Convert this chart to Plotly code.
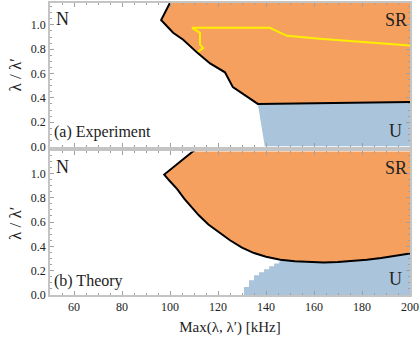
import plotly.graph_objects as go
from plotly.subplots import make_subplots

# (a) experiment: SR boundary (black line)
exp_bound_x = [101.0, 96.3, 101.3, 105.5, 111.3, 116.7, 122.9, 126.2, 136.6, 200.0]
exp_bound_y = [1.22, 1.04, 0.935, 0.878, 0.772, 0.683, 0.61, 0.488, 0.35, 0.366]
# (a) experiment: U region corners
exp_u_x = [136.6, 139.5, 200.0, 200.0]
exp_u_y = [0.35, 0.0, 0.0, 0.366]
# (a) experiment: yellow contour
exp_yel_x = [111.7, 113.8, 112.5, 112.5, 109.2, 141.6, 148.7, 162.4, 200.0]
exp_yel_y = [0.78, 0.81, 0.837, 0.935, 0.976, 0.976, 0.91, 0.886, 0.83]

# (b) theory: SR boundary
th_upper_x = [112.0]
th_upper_y = [1.22]
th_curve_x = [97.6, 100, 103, 106, 109, 112, 116, 120, 125, 130, 135, 140, 146,
              152, 158, 164, 170, 176, 182, 188, 194, 200]
th_curve_y = [0.99, 0.935, 0.87, 0.79, 0.72, 0.655, 0.58, 0.52, 0.45, 0.39, 0.345,
              0.315, 0.29, 0.277, 0.27, 0.268, 0.272, 0.28, 0.29, 0.305, 0.322, 0.341]
# (b) theory: U staircase
th_stair_x = [130.8, 132.9, 135.0, 137.1, 139.2, 141.3, 143.4, 145.5]
th_stair_y = [0.065, 0.122, 0.163, 0.187, 0.211, 0.236, 0.26, 0.276]

ORANGE = '#F6A05F'
BLUE = '#A9C4DB'
FONT = 'Liberation Serif'
TOP = 1.22

fig = make_subplots(rows=2, cols=1, shared_xaxes=True, vertical_spacing=0.017)

# ---- top panel
fig.add_trace(go.Scatter(x=exp_u_x, y=exp_u_y, fill='toself', fillcolor=BLUE,
                         mode='lines', line=dict(width=0)), row=1, col=1)
fig.add_trace(go.Scatter(x=exp_bound_x + [200.0], y=exp_bound_y + [TOP], fill='toself',
                         fillcolor=ORANGE, mode='lines', line=dict(width=0)), row=1, col=1)
fig.add_trace(go.Scatter(x=exp_bound_x, y=exp_bound_y, mode='lines',
                         line=dict(color='black', width=2)), row=1, col=1)
fig.add_trace(go.Scatter(x=exp_yel_x, y=exp_yel_y, mode='lines',
                         line=dict(color='#FFEE00', width=2)), row=1, col=1)

# ---- bottom panel: U region = staircase + area under the curve, one polygon
ux, uy = [th_stair_x[0]], [0.0]
edges = th_stair_x[1:] + [146]
for x0, x1, h in zip(th_stair_x, edges, th_stair_y):
    ux += [x0, x1]
    uy += [h, h]
for x, y in zip(th_curve_x, th_curve_y):
    if x >= 146:
        ux.append(x)
        uy.append(y)
ux.append(200.0)
uy.append(0.0)
fig.add_trace(go.Scatter(x=ux, y=uy, fill='toself', fillcolor=BLUE,
                         mode='lines', line=dict(width=0)), row=2, col=1)
bx = th_upper_x + th_curve_x
by = th_upper_y + th_curve_y
fig.add_trace(go.Scatter(x=bx + [200.0], y=by + [TOP], fill='toself', fillcolor=ORANGE,
                         mode='lines', line=dict(width=0)), row=2, col=1)
fig.add_trace(go.Scatter(x=bx, y=by, mode='lines',
                         line=dict(color='black', width=2)), row=2, col=1)

axis_style = dict(showline=True, linecolor='#C4C4C4', linewidth=1.5, mirror='ticks',
                  ticks='inside', ticklen=4, tickcolor='#A0A0A0', showgrid=False,
                  zeroline=False, tickfont=dict(family=FONT, size=12, color='#222'))

fig.update_xaxes(range=[50, 200], dtick=20,
                 minor=dict(ticks='inside', dtick=5, ticklen=2, tickcolor='#A0A0A0'),
                 **axis_style)
fig.update_yaxes(range=[0, 1.18], dtick=0.2, tickformat='.1f',
                 minor=dict(ticks='inside', dtick=0.05, ticklen=2, tickcolor='#A0A0A0'),
                 title=dict(text='λ / λ′', font=dict(family=FONT, size=17, color='#222'),
                            standoff=5),
                 **axis_style)
fig.update_xaxes(title=dict(text='Max(λ, λ′) [kHz]', font=dict(family=FONT, size=15, color='#222'),
                            standoff=8), row=2, col=1)

def label(text, x, y, row, size=18, xanchor='center'):
    ref = '' if row == 1 else '2'
    fig.add_annotation(text=text, x=x, y=y, xref='x' + ref + ' domain', yref='y' + ref + ' domain',
                       xanchor=xanchor, yanchor='middle', showarrow=False,
                       font=dict(family=FONT, size=size, color='#222'))

for r in (1, 2):
    label('N', 0.035, 0.89, r)
    label('SR', 0.962, 0.885, r)
    label('U', 0.96, 0.11, r)
label('(a) Experiment', 0.005, 0.1, 1, size=16, xanchor='left')
label('(b) Theory', 0.005, 0.1, 2, size=16, xanchor='left')

fig.update_layout(width=420, height=342, showlegend=False,
                  margin=dict(l=50, r=9, t=1, b=47),
                  plot_bgcolor='white', paper_bgcolor='white')

fig.write_html("out.html", config={'displayModeBar': False},
               post_script="document.body.style.margin='0px';")
